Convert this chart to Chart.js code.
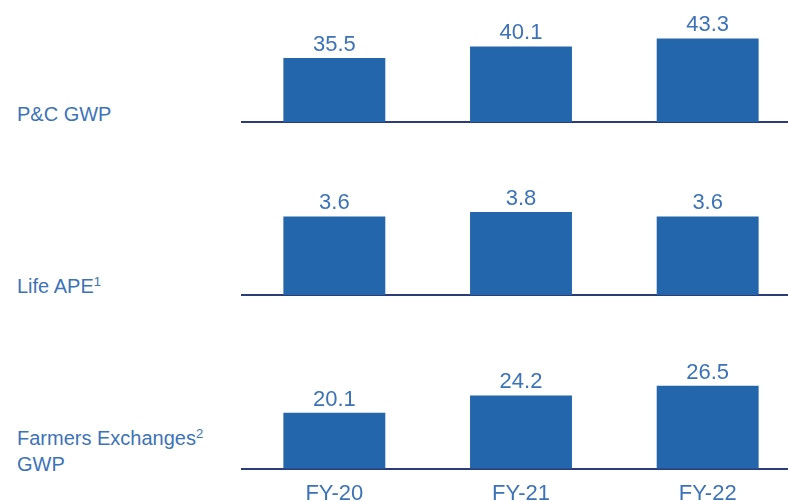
<!DOCTYPE html>
<html>
<head>
<meta charset="utf-8">
<script src="https://cdn.jsdelivr.net/npm/chart.js@4.4.1/dist/chart.umd.min.js"></script>
<style>
  html, body { margin: 0; padding: 0; background: #fff; }
  body { width: 788px; height: 501px; position: relative; overflow: hidden;
         font-family: "Liberation Sans", Arial, sans-serif; }
  .panel { position: absolute; left: 241px; width: 560px; }
  .label { position: absolute; left: 17px; color: #3C73B8; font-size: 20px; line-height: 26px; }
  .label sup { font-size: 13px; vertical-align: 7px; line-height: 0; }
</style>
</head>
<body>
<div class="label" style="top:101px">P&amp;C GWP</div>
<div class="label" style="top:273px">Life APE<sup>1</sup></div>
<div class="label" style="top:425px">Farmers Exchanges<sup>2</sup><br>GWP</div>

<div class="panel" style="top:0px;height:124px"><canvas id="c1" width="560" height="124"></canvas></div>
<div class="panel" style="top:160px;height:137px"><canvas id="c2" width="560" height="137"></canvas></div>
<div class="panel" style="top:335px;height:184px"><canvas id="c3" width="560" height="184"></canvas></div>

<script>
// categories and values per panel
const years = ['FY-20', 'FY-21', 'FY-22'];
const pcGwp = [35.5, 40.1, 43.3];
const lifeApe = [3.6, 3.8, 3.6];
const farmersGwp = [20.1, 24.2, 26.5];

const barColor = '#2366AC';
const textColor = '#3C73B8';
const axisColor = '#2B3C78';

// draws the value above each bar
const valueLabels = {
    id: 'valueLabels',
    afterDatasetsDraw(chart) {
        const ctx = chart.ctx;
        const meta = chart.getDatasetMeta(0);
        const data = chart.data.datasets[0].data;
        ctx.save();
        ctx.font = '22px "Liberation Sans", Arial, sans-serif';
        ctx.fillStyle = textColor;
        ctx.textAlign = 'center';
        ctx.textBaseline = 'alphabetic';
        meta.data.forEach((bar, i) => {
            ctx.fillText(data[i].toFixed(1), bar.x, bar.y - 7);
        });
        ctx.restore();
    }
};

function makePanel(id, values, yMin, yMax, showTicks) {
    const ctx = document.getElementById(id).getContext('2d');
    return new Chart(ctx, {
        type: 'bar',
        data: {
            labels: years,
            datasets: [{
                data: values,
                backgroundColor: barColor,
                borderWidth: 0,
                categoryPercentage: 1,
                barPercentage: 0.546
            }]
        },
        options: {
            responsive: false,
            animation: false,
            layout: { padding: { bottom: showTicks ? 0 : 2 } },
            plugins: {
                legend: { display: false },
                tooltip: { enabled: false }
            },
            scales: {
                x: {
                    grid: { display: false, drawTicks: false },
                    border: { display: true, color: axisColor, width: 2 },
                    ticks: {
                        display: showTicks,
                        color: textColor,
                        padding: 12,
                        font: { size: 22, family: '"Liberation Sans", Arial, sans-serif' }
                    }
                },
                y: {
                    display: false,
                    min: yMin,
                    max: yMax
                }
            }
        },
        plugins: [valueLabels]
    });
}

makePanel('c1', pcGwp, 10, 58.6, false);
makePanel('c2', lifeApe, 0, 6.19, false);
makePanel('c3', farmersGwp, 7.0, 38.4, true);
</script>
</body>
</html>
